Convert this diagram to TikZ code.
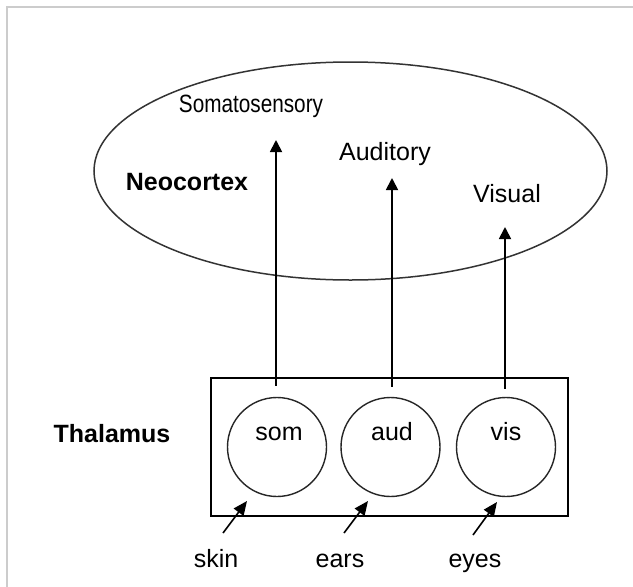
\documentclass[tikz,border=0pt]{standalone}
\usepackage{fontspec}
\setmainfont{Liberation Sans}
\usetikzlibrary{arrows.meta,shapes.geometric}
\begin{document}
\begin{tikzpicture}[x=1pt,y=-1pt,
  lbl/.style={font=\fontsize{25}{29}\selectfont, anchor=base, inner sep=0pt},
  blbl/.style={font=\fontsize{25}{29}\selectfont\bfseries, anchor=base, inner sep=0pt},
  nuc/.style={circle, draw=black!85, line width=1.4pt, minimum size=99pt, inner sep=0pt},
  upar/.style={line width=1.8pt, -{Triangle[length=12pt,width=12pt]}},
  inar/.style={line width=1.6pt, -{Triangle[length=14pt,width=12pt]}}]
\useasboundingbox (0,0) rectangle (633,587);
\fill[white] (0,0) rectangle (633,587);
\draw[line width=2pt, black!20] (7,587) -- (7,7) -- (633,7);
% neocortex
\node[ellipse, draw=black!80, line width=1.5pt, minimum width=513pt, minimum height=218pt, inner sep=0pt] (cortex) at (350.5,171) {};
\node[blbl] (neo) at (187,190) {Neocortex};
\node[lbl] (somt) at (251,112) {\scalebox{0.83}[1]{Somatosensory}};
\node[lbl] (audt) at (385,160) {Auditory};
\node[lbl] (vist) at (507,202) {Visual};
% thalamus
\node[draw, line width=2pt, minimum width=357pt, minimum height=138pt, inner sep=0pt] (thal) at (389.5,447) {};
\node[blbl] (thalt) at (112,442) {Thalamus};
\node[nuc] (som) at (277,447) {};
\node[nuc] (aud) at (390.5,447) {};
\node[nuc] (vis) at (506,447) {};
\node[lbl] (soml) at (279,440) {som};
\node[lbl] (audl) at (392,440) {aud};
\node[lbl] (visl) at (506,440) {vis};
% projections
\coordinate (somtip) at (276,140);
\coordinate (audtip) at (392,178);
\coordinate (vistip) at (505,227);
\draw[upar] ([xshift=-1pt,yshift=11pt]som.north) -- (somtip);
\draw[upar] ([xshift=1.5pt,yshift=10pt]aud.north) -- (audtip);
\draw[upar] ([xshift=-1pt,yshift=8pt]vis.north) -- (vistip);
% inputs
\node[lbl] (skin) at (216,567) {skin};
\node[lbl] (ears) at (340,567) {ears};
\node[lbl] (eyes) at (475,567) {eyes};
\coordinate (skinf) at (223,533);
\coordinate (skinh) at (247,501);
\coordinate (earsf) at (344,533);
\coordinate (earsh) at (368,501);
\coordinate (eyesf) at (473,535);
\coordinate (eyesh) at (497,502);
\draw[inar] (skinf) -- (skinh);
\draw[inar] (earsf) -- (earsh);
\draw[inar] (eyesf) -- (eyesh);
\end{tikzpicture}
\end{document}
